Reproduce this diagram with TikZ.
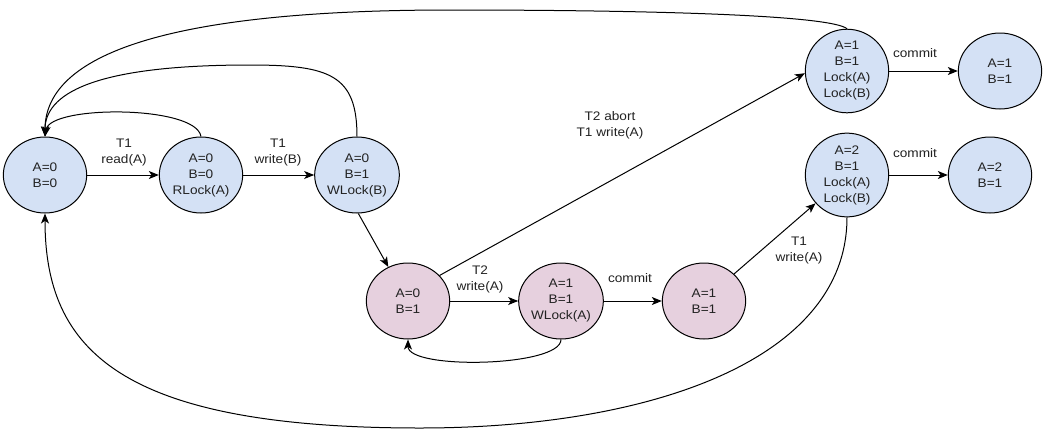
\documentclass[tikz,border=0pt]{standalone}
\usepackage{fontspec}
\setmainfont{Liberation Sans}[FakeStretch=1.1]
\usetikzlibrary{shapes.geometric,arrows.meta}
\definecolor{bluefill}{HTML}{D4E1F5}
\definecolor{pinkfill}{HTML}{E6D0DE}
\definecolor{txt}{HTML}{222222}
\begin{document}
\begin{tikzpicture}[x=0.75pt,y=-0.75pt,
  state/.style={ellipse,draw=black,line width=0.75pt,minimum width=62.5pt,minimum height=57pt,inner sep=0pt,align=center,font=\fontsize{9.3}{12}\selectfont,text=txt},
  bstate/.style={state,fill=bluefill},
  pstate/.style={state,fill=pinkfill},
  lbl/.style={align=center,font=\fontsize{9.3}{12}\selectfont,text=txt,inner sep=0pt},
  arr/.style={line width=0.75pt,-{Stealth[length=7.5pt,width=6pt,inset=2pt]}},
  ]
\useasboundingbox (0,0) rectangle (1058,444);
% nodes
\node[bstate] (N0) at (45,175) {A=0\\B=0};
\node[bstate] (N1) at (201,175) {A=0\\B=0\\RLock(A)};
\node[bstate] (N2) at (357,175) {A=0\\B=1\\WLock(B)};
\node[pstate] (P0) at (408,301) {A=0\\B=1};
\node[pstate] (P1) at (561,301) {A=1\\B=1\\WLock(A)};
\node[pstate] (P2) at (704,301) {A=1\\B=1};
\node[bstate] (T1) at (847,71) {A=1\\B=1\\Lock(A)\\Lock(B)};
\node[bstate] (T2) at (1000,71) {A=1\\B=1};
\node[bstate] (M1) at (847,175) {A=2\\B=1\\Lock(A)\\Lock(B)};
\node[bstate] (M2) at (990,175) {A=2\\B=1};
% straight edges
\draw[arr] (N0) -- (N1);
\draw[arr] (N1) -- (N2);
\draw[arr] (N2.-88) -- (P0.120);
\draw[arr] (P0) -- (P1);
\draw[arr] (P1) -- (P2);
\draw[arr] (P2.42) -- (M1.222);
\draw[arr] (P0.39) -- (T1.183);
\draw[arr] (T1) -- (T2);
\draw[arr] (M1) -- (M2);
% curved edges back
\draw[arr] (N1.north) .. controls (196,105) and (50,105) .. (N0.north);
\draw[arr] (N2.north) .. controls (357,75) and (330,65) .. (250,65) .. controls (90,65) and (45,95) .. (N0.north);
\draw[arr] (T1.north) .. controls (830,15) and (650,10) .. (450,10) .. controls (150,10) and (45,60) .. (N0.north);
\draw[arr] (P1.south) .. controls (561,367) and (408,370) .. (P0.south);
\draw[arr] (M1.south) .. controls (847,360) and (650,428) .. (420,428) .. controls (120,428) and (45,350) .. (N0.south);
% labels
\node[lbl] (L1) at (124,153) {T1\\read(A)};
\node[lbl] (L2) at (278,153) {T1\\write(B)};
\node[lbl] (L3) at (480,279) {T2\\write(A)};
\node[lbl] (L4) at (630,278) {commit};
\node[lbl] (L5) at (799,251) {T1\\write(A)};
\node[lbl] (L6) at (610,125) {T2 abort\\T1 write(A)};
\node[lbl] (L7) at (915,53) {commit};
\node[lbl] (L8) at (915,153) {commit};
\end{tikzpicture}
\end{document}
